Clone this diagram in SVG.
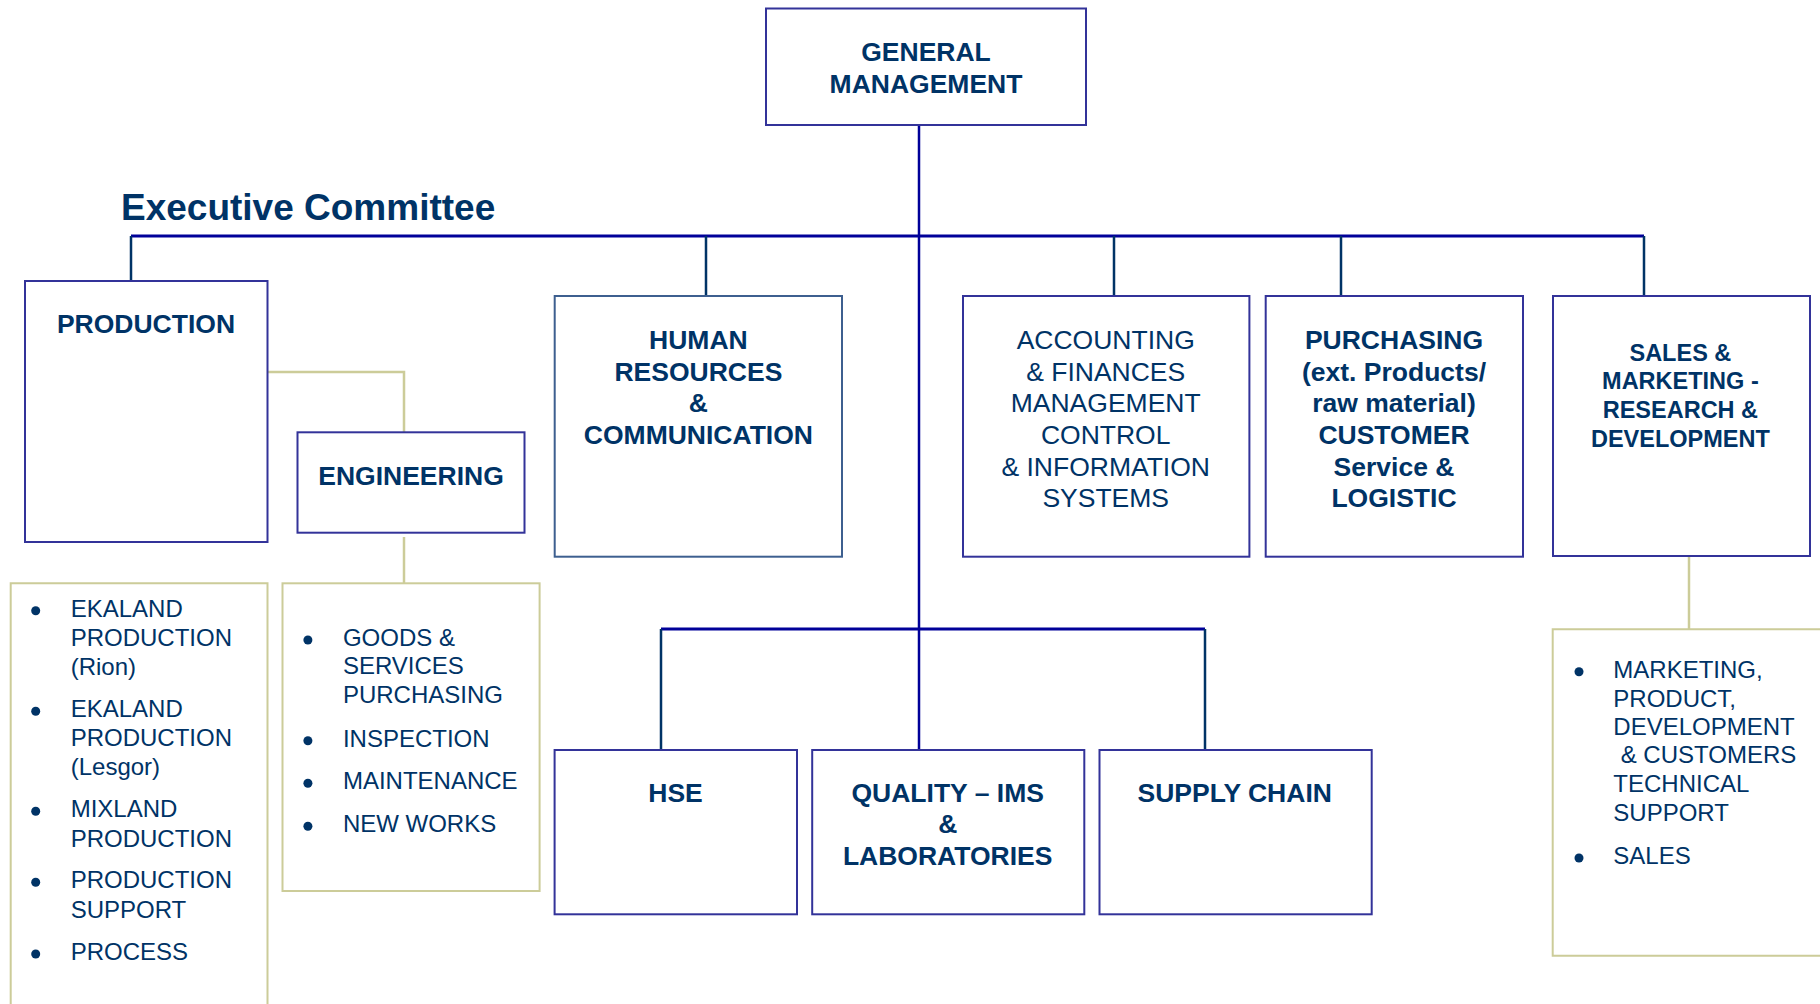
<svg xmlns="http://www.w3.org/2000/svg" width="1820" height="1004" viewBox="0 0 1820 1004">
<style>
  .box { fill: #ffffff; stroke: #333399; stroke-width: 2; }
  .boxhr { fill: #ffffff; stroke: #3d5f8f; stroke-width: 2; }
  .list { fill: #ffffff; stroke: #cccc99; stroke-width: 2; }
  .bus { fill: none; stroke: #000099; stroke-width: 3; }
  .drop { fill: none; stroke: #003366; stroke-width: 2.5; }
  .main { fill: none; stroke: #000099; stroke-width: 2.5; }
  .beige { fill: none; stroke: #cccc99; stroke-width: 2.5; }
  text { font-family: "Liberation Sans", Arial, sans-serif; fill: #003366; }
  .t { font-size: 26.5px; font-weight: bold; text-anchor: middle; }
  .tr { font-size: 26.5px; font-weight: normal; text-anchor: middle; }
  .ts { font-size: 23.5px; font-weight: bold; text-anchor: middle; }
  .li { font-size: 24px; }
  .title { font-size: 37px; font-weight: bold; }
  .dot { fill: #003366; }
</style>

<g id="connectors">
  <path class="main" d="M919 125 V750"/>
  <path class="bus" d="M131 236 H1644"/>
  <path class="drop" d="M131 236 V281 M706 236 V296 M1114 236 V296 M1341 236 V296 M1644 236 V296"/>
  <path class="bus" d="M661 629 H1205"/>
  <path class="drop" d="M661 629 V750 M1205 629 V750"/>
  <path class="beige" d="M267.5 372 H404 V432"/>
  <path class="beige" d="M404 537 V583"/>
  <path class="beige" d="M1689 556 V629"/>
</g>

<text class="title" x="121" y="220">Executive Committee</text>

<g id="general-management">
  <rect class="box" x="766" y="8.5" width="320" height="116.5"/>
  <text class="t" x="926" y="61">GENERAL</text>
  <text class="t" x="926" y="93">MANAGEMENT</text>
</g>

<g id="production">
  <rect class="box" x="25" y="281" width="242.5" height="261"/>
  <text class="t" x="146" y="333">PRODUCTION</text>
</g>

<g id="engineering">
  <rect class="box" x="297.5" y="432.3" width="227" height="100.4"/>
  <text class="t" x="411" y="485">ENGINEERING</text>
</g>

<g id="human-resources">
  <rect class="boxhr" x="554.7" y="296" width="287.3" height="260.7"/>
  <text class="t" x="698.4" y="349">HUMAN</text>
  <text class="t" x="698.4" y="380.7">RESOURCES</text>
  <text class="t" x="698.4" y="412.3">&amp;</text>
  <text class="t" x="698.4" y="444">COMMUNICATION</text>
</g>

<g id="accounting">
  <rect class="box" x="963" y="296" width="286.4" height="260.7"/>
  <text class="tr" x="1105.7" y="349">ACCOUNTING</text>
  <text class="tr" x="1105.7" y="380.7">&amp; FINANCES</text>
  <text class="tr" x="1105.7" y="412.3">MANAGEMENT</text>
  <text class="tr" x="1105.7" y="444">CONTROL</text>
  <text class="tr" x="1105.7" y="475.7">&amp; INFORMATION</text>
  <text class="tr" x="1105.7" y="507.3">SYSTEMS</text>
</g>

<g id="purchasing">
  <rect class="box" x="1265.7" y="296" width="257.3" height="260.7"/>
  <text class="t" x="1394" y="349">PURCHASING</text>
  <text class="t" x="1394" y="380.7">(ext. Products/</text>
  <text class="t" x="1394" y="412.3">raw material)</text>
  <text class="t" x="1394" y="444">CUSTOMER</text>
  <text class="t" x="1394" y="475.7">Service &amp;</text>
  <text class="t" x="1394" y="507.3">LOGISTIC</text>
</g>

<g id="sales">
  <rect class="box" x="1553" y="296" width="257" height="260"/>
  <text class="ts" x="1680.4" y="360.7">SALES &amp;</text>
  <text class="ts" x="1680.4" y="389">MARKETING -</text>
  <text class="ts" x="1680.4" y="417.7">RESEARCH &amp;</text>
  <text class="ts" x="1680.4" y="446.7">DEVELOPMENT</text>
</g>

<g id="hse">
  <rect class="box" x="554.6" y="750" width="242.4" height="164.3"/>
  <text class="t" x="675.5" y="801.7">HSE</text>
</g>

<g id="quality">
  <rect class="box" x="812.2" y="750" width="272.1" height="164.3"/>
  <text class="t" x="947.7" y="801.7">QUALITY – IMS</text>
  <text class="t" x="947.7" y="833.3">&amp;</text>
  <text class="t" x="947.7" y="865">LABORATORIES</text>
</g>

<g id="supply-chain">
  <rect class="box" x="1099.5" y="750" width="272.2" height="164.3"/>
  <text class="t" x="1234.7" y="801.7">SUPPLY CHAIN</text>
</g>

<g id="production-list">
  <path class="list" d="M10.7 1012 V583.3 H267.5 V1012"/>
  <circle class="dot" cx="35.7" cy="610.7" r="4.5"/>
  <circle class="dot" cx="35.7" cy="711.3" r="4.5"/>
  <circle class="dot" cx="35.7" cy="811.3" r="4.5"/>
  <circle class="dot" cx="35.7" cy="882.3" r="4.5"/>
  <circle class="dot" cx="35.7" cy="954" r="4.5"/>
  <text class="li" x="70.7" y="616.7">EKALAND</text>
  <text class="li" x="70.7" y="646">PRODUCTION</text>
  <text class="li" x="70.7" y="675">(Rion)</text>
  <text class="li" x="70.7" y="717.3">EKALAND</text>
  <text class="li" x="70.7" y="745.7">PRODUCTION</text>
  <text class="li" x="70.7" y="775">(Lesgor)</text>
  <text class="li" x="70.7" y="817.3">MIXLAND</text>
  <text class="li" x="70.7" y="846.7">PRODUCTION</text>
  <text class="li" x="70.7" y="888.3">PRODUCTION</text>
  <text class="li" x="70.7" y="917.7">SUPPORT</text>
  <text class="li" x="70.7" y="960">PROCESS</text>
</g>

<g id="engineering-list">
  <rect class="list" x="282.5" y="583.3" width="257.1" height="307.7"/>
  <circle class="dot" cx="307.9" cy="640" r="4.5"/>
  <circle class="dot" cx="307.9" cy="740.7" r="4.5"/>
  <circle class="dot" cx="307.9" cy="783.3" r="4.5"/>
  <circle class="dot" cx="307.9" cy="826.3" r="4.5"/>
  <text class="li" x="342.9" y="646">GOODS &amp;</text>
  <text class="li" x="342.9" y="674.3">SERVICES</text>
  <text class="li" x="342.9" y="703.3">PURCHASING</text>
  <text class="li" x="342.9" y="746.7">INSPECTION</text>
  <text class="li" x="342.9" y="789.3">MAINTENANCE</text>
  <text class="li" x="342.9" y="832.3">NEW WORKS</text>
</g>

<g id="sales-list">
  <path class="list" d="M1830 629.3 H1552.7 V955.7 H1830"/>
  <circle class="dot" cx="1579" cy="671.7" r="4.5"/>
  <circle class="dot" cx="1579" cy="858" r="4.5"/>
  <text class="li" x="1613.3" y="677.7">MARKETING,</text>
  <text class="li" x="1613.3" y="706.7">PRODUCT,</text>
  <text class="li" x="1613.3" y="735">DEVELOPMENT</text>
  <text class="li" x="1620.7" y="763.3">&amp; CUSTOMERS</text>
  <text class="li" x="1613.3" y="792.3">TECHNICAL</text>
  <text class="li" x="1613.3" y="821">SUPPORT</text>
  <text class="li" x="1613.3" y="864">SALES</text>
</g>
</svg>
